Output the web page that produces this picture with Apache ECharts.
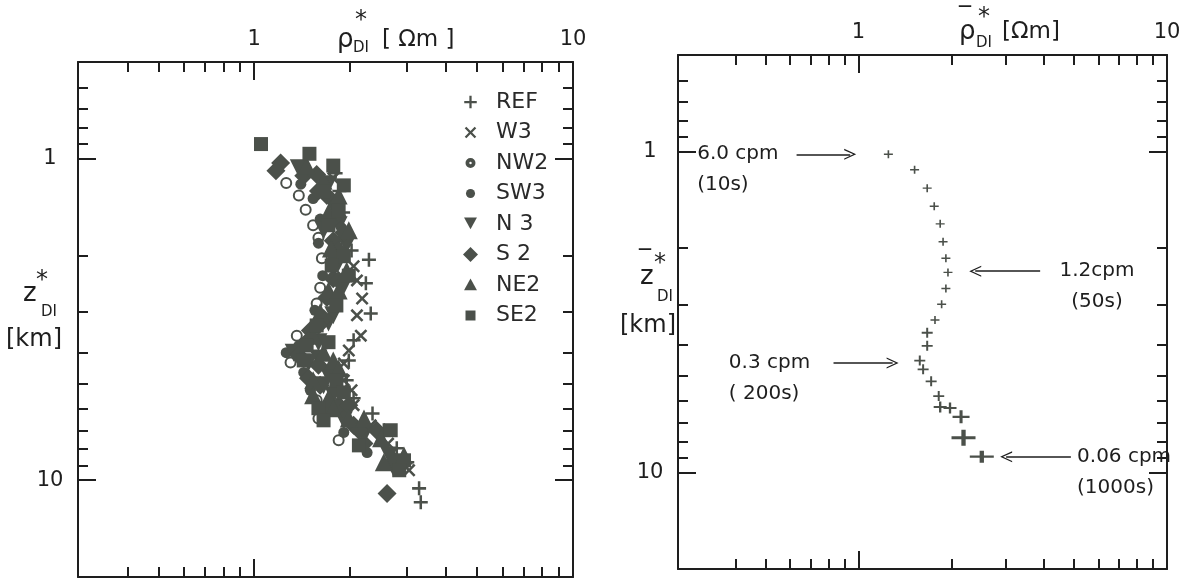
<!DOCTYPE html>
<html><head><meta charset="utf-8">
<script src="https://cdn.jsdelivr.net/npm/echarts@6/dist/echarts.min.js"></script>
<style>html,body{margin:0;padding:0;background:#fff}#c{width:1191px;height:581px}</style>
</head><body><div id="c"></div>
<script>
// ---------- axis ticks ----------
const xMajorTicks = [1];
const xTickLabels = [1, 10];
const xMinorTicks = [0.4, 0.5, 0.6, 0.7, 0.8, 0.9, 2, 3, 4, 5, 6, 7, 8, 9];
const yMajorTicks = [1, 10];
const yTickLabels = [1, 10];
const yMinorTicks = [0.6, 0.7, 0.8, 0.9, 2, 3, 4, 5, 6, 7, 8, 9];
const xRangeLeft = [0.28, 10];
const xRangeRight = [0.26, 10];
const yRange = [0.5, 20];

// ---------- left panel: rho*_DI [Ohm m] vs z*_DI [km] per station ----------
const seriesNames = ['REF', 'W3', 'NW2', 'SW3', 'N 3', 'S 2', 'NE2', 'SE2'];
const REF = [[1.80,1.11],[1.85,1.26],[1.90,1.47],[1.97,1.73],[2.02,1.93],[2.29,2.06],[2.24,2.44],[2.32,3.03],[2.05,3.67],[1.98,4.24],[1.95,4.89],[2.05,5.56],[2.35,6.20],[2.55,6.99],[2.80,7.95],[3.02,8.79],[3.29,10.6],[3.33,11.7]];
const W3 = [[1.77,1.15],[1.80,1.33],[1.86,1.56],[1.92,1.80],[2.05,2.16],[2.10,2.39],[2.18,2.72],[2.10,3.07],[2.16,3.55],[1.98,3.95],[1.91,4.33],[1.91,4.89],[2.02,5.25],[2.05,5.84],[2.32,6.75],[2.63,7.69],[2.85,8.55],[3.06,9.31]];
const NW2 = [[1.26,1.19],[1.38,1.30],[1.45,1.44],[1.53,1.61],[1.59,1.76],[1.63,2.04],[1.61,2.52],[1.57,2.82],[1.36,3.55],[1.30,4.30],[1.57,5.64],[1.59,6.43],[1.84,7.51]];
const SW3 = [[1.40,1.20],[1.53,1.33],[1.61,1.54],[1.59,1.83],[1.64,2.31],[1.55,2.96],[1.38,3.81],[1.26,4.01],[1.43,4.62],[1.50,5.25],[1.71,6.06],[1.91,7.10],[2.26,8.20]];
const N3 = [[1.38,1.07],[1.71,1.20],[1.77,1.40],[1.84,1.61],[1.65,1.67],[1.95,1.85],[1.84,2.10],[1.91,2.48],[1.77,2.82],[1.77,3.07],[1.71,3.23],[1.59,3.72],[1.33,4.01],[1.59,4.18],[1.48,4.30],[1.71,4.72],[1.65,5.06],[1.77,5.44],[1.91,6.28],[1.91,6.51],[2.21,7.25],[2.65,8.37],[2.74,9.18]];
const S2 = [[1.21,1.03],[1.17,1.09],[1.43,1.13],[1.57,1.12],[1.59,1.26],[1.69,1.30],[1.77,1.54],[1.91,1.70],[1.77,1.80],[1.84,1.93],[1.81,2.04],[1.77,2.36],[1.84,2.39],[1.69,2.70],[1.65,3.14],[1.59,3.30],[1.50,3.42],[1.48,3.67],[1.38,4.09],[1.59,4.39],[1.48,4.82],[1.61,5.06],[1.84,5.84],[1.98,5.84],[2.05,6.75],[2.13,6.99],[2.21,7.69],[2.42,6.99],[2.74,8.79],[2.61,11.0]];
const NE2 = [[1.46,1.05],[1.65,1.17],[1.84,1.30],[1.71,1.47],[1.98,1.67],[1.74,1.90],[1.95,2.23],[1.71,2.57],[1.84,2.57],[1.61,3.00],[1.53,3.55],[1.65,4.01],[1.77,4.24],[1.84,4.49],[1.53,4.89],[1.53,5.44],[1.71,5.56],[1.77,5.97],[1.98,6.43],[2.21,6.43],[2.50,7.40],[2.55,8.79],[2.95,8.37]];
const SE2 = [[1.05,0.90],[1.49,0.965],[1.77,1.05],[1.91,1.21],[1.65,1.26],[1.84,1.45],[1.71,1.61],[1.91,2.01],[1.75,2.15],[1.98,2.31],[1.81,2.86],[1.57,3.30],[1.71,3.72],[1.46,3.81],[1.43,4.24],[1.81,4.89],[1.91,5.33],[1.59,5.97],[1.65,6.51],[2.13,7.79],[2.68,6.99],[2.95,8.67],[2.85,9.31]];
const stationData = [REF, W3, NW2, SW3, N3, S2, NE2, SE2];

// ---------- right panel: averaged rho_DI vs z_DI ----------
const avgRho = [[1.25,1.02],[1.52,1.14],[1.67,1.30],[1.76,1.48],[1.84,1.68],[1.88,1.91],[1.92,2.15],[1.95,2.38],[1.92,2.67],[1.86,2.99],[1.77,3.35],[1.67,3.67],[1.67,4.03],[1.58,4.48],[1.62,4.77],[1.72,5.2],[1.82,5.78],[1.84,6.25],[1.98,6.3],[2.15,6.71],[2.19,7.8],[2.51,8.93]];
// annotations: frequency, period, text x, depth, arrow from x, arrow to x
const annFreq = ['6.0 cpm', '1.2cpm', '0.3 cpm', '0.06 cpm'];
const annPeriod = ['(10s)', '(50s)', '( 200s)', '(1000s)'];
const annTextX = [0.30, 5.93, 0.38, 5.11];
const annDepth = [1.02, 2.36, 4.56, 8.94];
const annArrowFrom = [0.63, 3.88, 0.83, 4.88];
const annArrowTo = [0.94, 2.39, 1.29, 3.01];

// ---------- styles ----------
const INK = '#4b504a';
const AX = '#1e1e1e';
const FONT = 'DejaVu Sans';
const P_PLUS = 'M4.1,0H5.9V4.1H10V5.9H5.9V10H4.1V5.9H0V4.1H4.1Z';
const P_CROSS = 'M1.4,0L5,3.6L8.6,0L10,1.4L6.4,5L10,8.6L8.6,10L5,6.4L1.4,10L0,8.6L3.6,5L0,1.4Z';
const P_DOWN = 'M0,0H10L5,9Z';
const P_RING = 'M0,5A5,5,0,1,1,10,5A5,5,0,1,1,0,5ZM2.2,5A2.8,2.8,0,1,0,7.8,5A2.8,2.8,0,1,0,2.2,5Z';
const P_DOT = 'M0,5A5,5,0,1,1,10,5A5,5,0,1,1,0,5Z';
const P_DIAM = 'M5,0L10,5L5,10L0,5Z';
const P_UP = 'M5,0L10,9H0Z';
const P_SQ = 'M0,0H10V10H0Z';
const symbols = ['path://' + P_PLUS, 'path://' + P_CROSS, 'emptyCircle', 'circle', 'path://' + P_DOWN, 'diamond', 'triangle', 'rect'];
const sizes = [14, 13, 10, 11, 18, 19, 18, 14];
// legend icons: same shapes, padded so they render at the reference's smaller sizes
const legendShapes = [P_PLUS, P_CROSS, P_RING, P_DOT, P_DOWN, P_DIAM, P_UP, P_SQ];
const legendPad = [1.0, 1.5, 4.4, 3.3, 0.8, 0, 0.8, 2.5];
const CHEVRON = 'path://M0,10L5,0L10,10L8.8,10L5,2.4L1.2,10Z';

const chart = echarts.init(document.getElementById('c'), null, {renderer: 'canvas'});

function xAxes(g, range) {
  const base = {type: 'log', logBase: 10, min: range[0], max: range[1], gridIndex: g,
    splitLine: {show: false}, minorTick: {show: false}};
  const line = {show: true, lineStyle: {color: AX, width: 2}};
  const off = {show: false};
  return [
    Object.assign({}, base, {position: 'top', axisLine: line,
      axisTick: {show: true, inside: true, length: 18, customValues: xMajorTicks, lineStyle: {color: AX, width: 2}},
      axisLabel: {show: true, customValues: xTickLabels, margin: 12, fontFamily: FONT, fontSize: 21, color: AX, formatter: v => String(v)}}),
    Object.assign({}, base, {position: 'top', axisLine: off,
      axisTick: {show: true, inside: true, length: 10, customValues: xMinorTicks, lineStyle: {color: AX, width: 2}},
      axisLabel: off}),
    Object.assign({}, base, {position: 'bottom', axisLine: line,
      axisTick: {show: true, inside: true, length: 18, customValues: xMajorTicks, lineStyle: {color: AX, width: 2}},
      axisLabel: off}),
    Object.assign({}, base, {position: 'bottom', axisLine: off,
      axisTick: {show: true, inside: true, length: 10, customValues: xMinorTicks, lineStyle: {color: AX, width: 2}},
      axisLabel: off})
  ];
}
function yAxes(g) {
  const base = {type: 'log', logBase: 10, min: yRange[0], max: yRange[1], inverse: true, gridIndex: g,
    splitLine: {show: false}, minorTick: {show: false}};
  const line = {show: true, lineStyle: {color: AX, width: 2}};
  const off = {show: false};
  return [
    Object.assign({}, base, {position: 'left', axisLine: line,
      axisTick: {show: true, inside: true, length: 18, customValues: yMajorTicks, lineStyle: {color: AX, width: 2}},
      axisLabel: {show: true, customValues: yTickLabels, margin: 28, align: 'center', fontFamily: FONT, fontSize: 21, color: AX, formatter: v => String(v)}}),
    Object.assign({}, base, {position: 'left', axisLine: off,
      axisTick: {show: true, inside: true, length: 10, customValues: yMinorTicks, lineStyle: {color: AX, width: 2}},
      axisLabel: off}),
    Object.assign({}, base, {position: 'right', axisLine: line,
      axisTick: {show: true, inside: true, length: 18, customValues: yMajorTicks, lineStyle: {color: AX, width: 2}},
      axisLabel: off}),
    Object.assign({}, base, {position: 'right', axisLine: off,
      axisTick: {show: true, inside: true, length: 10, customValues: yMinorTicks, lineStyle: {color: AX, width: 2}},
      axisLabel: off})
  ];
}

const series = stationData.map((d, i) => ({
  name: seriesNames[i], type: 'scatter', xAxisIndex: 0, yAxisIndex: 0,
  data: d, symbol: symbols[i], symbolSize: sizes[i],
  itemStyle: i === 2 ? {color: INK, borderColor: INK, borderWidth: 2.5, opacity: 1} : {color: INK, opacity: 1},
  emphasis: {disabled: true}, silent: true
}));

const markLineData = annFreq.map((f, i) => [
  {coord: [annArrowFrom[i], annDepth[i]]},
  {coord: [annArrowTo[i], annDepth[i]]}
]);
const markPointData = annFreq.map((f, i) => ({
  coord: [annTextX[i], annDepth[i]],
  label: {formatter: f + '\n' + annPeriod[i], align: i === 1 ? 'center' : 'left',
          position: 'inside', offset: [0, 15]}
}));

series.push({
  name: 'avg', type: 'scatter', xAxisIndex: 4, yAxisIndex: 4,
  data: avgRho, symbol: 'path://' + P_PLUS,
  symbolSize: (v) => v[1] > 8.5 ? [24, 12] : v[1] > 7.5 ? [24, 16] : v[1] > 6.6 ? [17, 13] : v[1] > 6 ? [13, 11] : v[1] > 3.5 ? [11, 10] : [9, 8],
  itemStyle: {color: INK, opacity: 1}, emphasis: {disabled: true}, silent: true,
  markLine: {silent: true, symbol: ['none', CHEVRON], symbolSize: [11, 12],
    lineStyle: {color: AX, width: 1.6, type: 'solid'}, label: {show: false}, data: markLineData},
  markPoint: {silent: true, symbol: 'circle', symbolSize: 1, itemStyle: {color: 'rgba(0,0,0,0)'},
    label: {show: true, color: AX, fontFamily: FONT, fontSize: 20, lineHeight: 31}, data: markPointData}
});

function txt(x, y, s, size, extra) {
  return Object.assign({type: 'text', x: x, y: y, style: {text: s, fontFamily: FONT, fontSize: size, fill: AX, textVerticalAlign: 'middle'}}, extra || {});
}

const legendData = seriesNames.map((n, i) => {
  const p = legendPad[i];
  return {name: n, icon: 'path://M' + (-p) + ',' + (-p) + 'M' + (10 + p) + ',' + (10 + p) + legendShapes[i]};
});

chart.setOption({
  animation: false,
  backgroundColor: '#fff',
  grid: [
    {left: 78, top: 62, width: 495, height: 515},
    {left: 678, top: 55, width: 489, height: 514}
  ],
  xAxis: xAxes(0, xRangeLeft).concat(xAxes(1, xRangeRight)),
  yAxis: yAxes(0).concat(yAxes(1)),
  legend: {
    orient: 'vertical', left: 457, top: 86, itemGap: 8.5, itemWidth: 15, itemHeight: 15,
    data: legendData, selectedMode: false,
    textStyle: {fontFamily: FONT, fontSize: 22, color: '#2a2a2a', padding: [0, 0, 0, 13]}
  },
  series: series,
  graphic: [
    // left x title
    txt(337, 40, 'ρ', 26), txt(355, 21, '*', 24), txt(353, 48, 'DI', 15), txt(382, 40, '[ Ωm ]', 23),
    // left y title
    txt(23, 294, 'z', 26), txt(36, 281, '*', 24), txt(41, 312, 'DI', 15), txt(6, 340, '[km]', 24),
    // right x title
    txt(959, 32, 'ρ', 26), txt(959, 18, '‾', 24), txt(978, 18, '*', 24), txt(976, 43, 'DI', 15), txt(1002, 32, '[Ωm]', 23),
    // right y title
    txt(640, 277, 'z', 26), txt(639, 261, '‾', 24), txt(654, 264, '*', 24), txt(657, 297, 'DI', 15), txt(620, 326, '[km]', 24)
  ]
});
</script></body></html>
